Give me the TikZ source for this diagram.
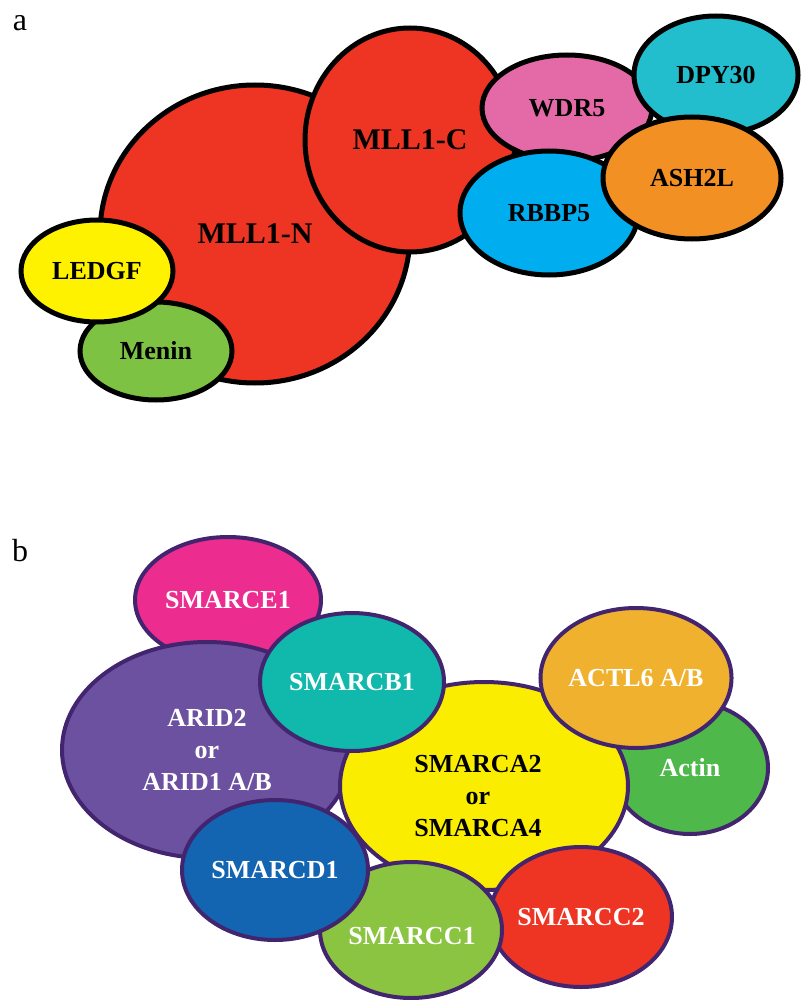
\documentclass[tikz,border=0pt]{standalone}
\usepackage{fontspec}
\setmainfont{Liberation Serif}
\usetikzlibrary{shapes.geometric}
\definecolor{mllred}{HTML}{EE3524}
\definecolor{menin}{HTML}{7DC242}
\definecolor{ledgf}{HTML}{FFF200}
\definecolor{wdr}{HTML}{E46AA7}
\definecolor{dpy}{HTML}{22BECD}
\definecolor{ash}{HTML}{F29023}
\definecolor{rbbp}{HTML}{00ADEF}
\definecolor{smce}{HTML}{EC2C8E}
\definecolor{arid}{HTML}{6B51A0}
\definecolor{smcb}{HTML}{10B9AC}
\definecolor{smca}{HTML}{FAED00}
\definecolor{actl}{HTML}{F0B12E}
\definecolor{actin}{HTML}{4EB84A}
\definecolor{smcd}{HTML}{1365B1}
\definecolor{smcc}{HTML}{8BC441}
\definecolor{edgeb}{HTML}{42256E}
\tikzset{
  protA/.style={ellipse, draw=black, line width=2.5pt, inner sep=0pt, font=\bfseries\fontsize{13}{16}\selectfont, text=black},
  protB/.style={ellipse, draw=edgeb, line width=2pt, inner sep=0pt, font=\bfseries\fontsize{13}{16}\selectfont, text=white, align=center},
  plabel/.style={font=\bfseries\fontsize{13}{16}\selectfont, align=center},
  panel/.style={font=\fontsize{16}{18}\selectfont, inner sep=0pt}
}
\begin{document}
\begin{tikzpicture}[x=0.5pt,y=-0.5pt]
\useasboundingbox (0,0) rectangle (800,1000);
\node[panel] (la) at (20,23) {a};
\node[panel] (lb) at (20,551) {b};
% panel a
\node[protA, fill=mllred, minimum width=155pt, minimum height=149pt, font=\bfseries\fontsize{15}{18}\selectfont] (mlln) at (255,234) {MLL1-N};
\node[protA, fill=mllred, minimum width=105pt, minimum height=112pt, font=\bfseries\fontsize{15}{18}\selectfont] (mllc) at (410,140) {MLL1-C};
\node[protA, fill=menin, minimum width=76pt, minimum height=49pt] (menin) at (156,351) {Menin};
\node[protA, fill=ledgf, minimum width=76pt, minimum height=51pt] (ledgf) at (97,271) {LEDGF};
\node[protA, fill=wdr, minimum width=85pt, minimum height=53pt] (wdr) at (567,108) {WDR5};
\node[protA, fill=rbbp, minimum width=89pt, minimum height=62pt] (rbbp) at (549,213) {RBBP5};
\node[protA, fill=dpy, minimum width=82pt, minimum height=59pt] (dpy) at (716,75) {DPY30};
\node[protA, fill=ash, minimum width=89pt, minimum height=61pt] (ash) at (692,178) {ASH2L};
% panel b
\node[protB, fill=smce, minimum width=93pt, minimum height=63pt] (smce) at (228,600) {SMARCE1};
\node[protB, fill=arid, minimum width=145pt, minimum height=108pt] (arid) at (207,750) {ARID2\\or\\ARID1 A/B};
\node[protB, fill=actin, minimum width=78pt, minimum height=66pt] (actin) at (690,768) {Actin};
\node[protB, fill=smca, minimum width=144pt, minimum height=104pt] (smca) at (484,786) {};
\node[plabel, text=black] (smcat) at (478,796) {SMARCA2\\or\\SMARCA4};
\node[protB, fill=actl, minimum width=93pt, minimum height=70pt] (actl) at (636,678) {ACTL6 A/B};
\node[protB, fill=smcb, minimum width=92pt, minimum height=69pt] (smcb) at (352,682) {SMARCB1};
\node[protB, fill=mllred, minimum width=91pt, minimum height=70pt] (smcc2) at (581,917) {SMARCC2};
\node[protB, fill=smcc, minimum width=91pt, minimum height=68pt] (smcc1) at (411,930) {};
\node[plabel, text=white] (smcc1t) at (412,936) {SMARCC1};
\node[protB, fill=smcd, minimum width=93pt, minimum height=70pt] (smcd) at (275,870) {SMARCD1};
\end{tikzpicture}
\end{document}
